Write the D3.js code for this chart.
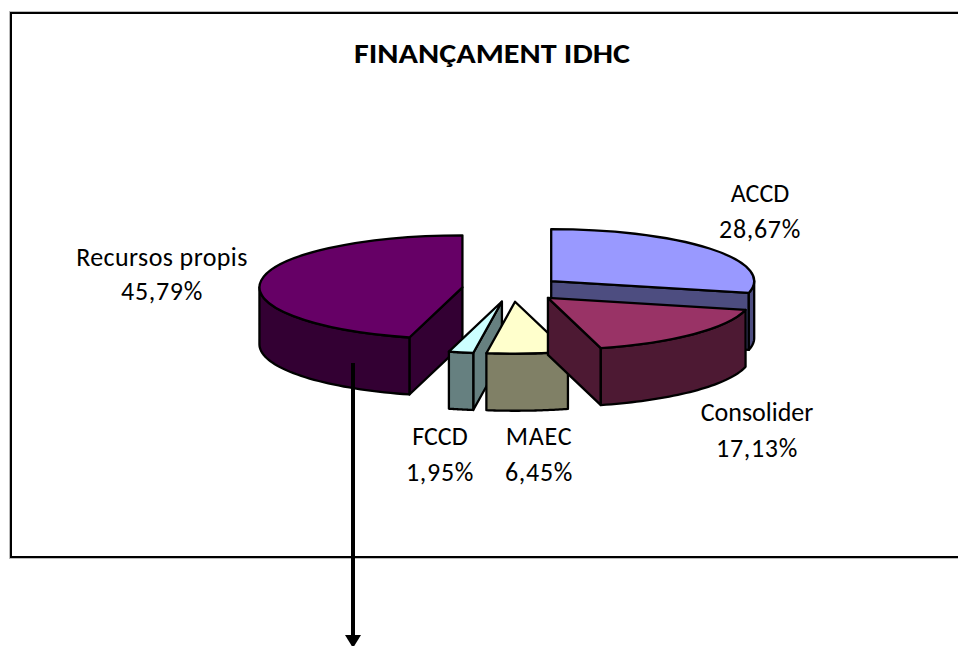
<!DOCTYPE html>
<html>
<head>
<meta charset="utf-8">
<script src="https://cdn.jsdelivr.net/npm/d3@7"></script>
<style>
  html, body { margin: 0; padding: 0; background: #fff; overflow: hidden; }
  svg { display: block; }
  text { font-family: Carlito, Lato, "Open Sans", sans-serif; fill: #000; }
</style>
</head>
<body>
<div id="chart"></div>
<script>
const categories = ["ACCD", "Consolider", "MAEC", "FCCD", "Recursos propis"];
const shares = [28.67, 17.13, 6.45, 1.95, 45.79];
const topColors = ["#9999ff", "#993366", "#ffffcc", "#ccffff", "#660066"];
const sideColors = ["#4d4d80", "#4d1933", "#808066", "#668080", "#330033"];
const chartTitle = "FINANÇAMENT IDHC";

const width = 958, height = 646;
const cx = 512, cy = 289;        // centre of the pie before exploding
const radius = 203;
const tilt = 0.256;              // y squash of the pie
const depth = 57;
const explode = 50;
const edge = 2.3;

const svg = d3.select("#chart").append("svg")
    .attr("width", width)
    .attr("height", height);

// chart frame, runs off the right side of the page
svg.append("rect")
    .attr("x", 10).attr("y", 12)
    .attr("width", 980).attr("height", 546)
    .attr("fill", "#fff")
    .attr("stroke", "#bbb")
    .attr("stroke-width", 2);
svg.append("rect")
    .attr("x", 11).attr("y", 13)
    .attr("width", 980).attr("height", 544)
    .attr("fill", "#fff")
    .attr("stroke", "#000")
    .attr("stroke-width", 2);

svg.append("text")
    .attr("x", 492).attr("y", 63)
    .attr("text-anchor", "middle")
    .attr("font-size", 28)
    .attr("font-weight", "bold")
    .attr("textLength", 276)
    .attr("lengthAdjust", "spacingAndGlyphs")
    .text(chartTitle);

const slices = d3.pie().sort(null)(shares);
const arc = d3.arc().innerRadius(0).outerRadius(radius);

const drawOrder = [0, 4, 3, 2, 1];
const halfPi = Math.PI / 2;

drawOrder.forEach(i => {
    const s = slices[i];
    const mid = (s.startAngle + s.endAngle) / 2;
    const ox = cx + explode * Math.sin(mid);
    const oy = cy - explode * tilt * Math.cos(mid);
    const pt = a => [ox + radius * Math.sin(a), oy - radius * tilt * Math.cos(a)];
    const g = svg.append("g").attr("class", "slice");

    const wall = pts => g.append("path")
        .attr("d", d3.line()(pts.concat(pts.slice().reverse().map(p => [p[0], p[1] + depth]))) + "Z")
        .attr("fill", sideColors[i])
        .attr("stroke", "#000")
        .attr("stroke-width", edge)
        .attr("stroke-linejoin", "round");

    // cut faces that point at the viewer
    if (s.startAngle > Math.PI) wall([[ox, oy], pt(s.startAngle)]);
    if (s.endAngle < Math.PI) wall([[ox, oy], pt(s.endAngle)]);

    // rim, only the front half of the circle shows
    const a0 = Math.max(s.startAngle, halfPi);
    const a1 = Math.min(s.endAngle, 3 * halfPi);
    if (a1 > a0) wall(d3.range(0, 41).map(k => pt(a0 + (a1 - a0) * k / 40)));

    // top face
    g.append("path")
        .attr("d", arc(s))
        .attr("transform", `translate(${ox},${oy}) scale(1,${tilt})`)
        .attr("fill", topColors[i])
        .attr("stroke", "#000")
        .attr("stroke-width", edge)
        .attr("vector-effect", "non-scaling-stroke")
        .attr("stroke-linejoin", "round");
});

// data labels
const labelX = [760, 757, 539, 440, 162];
const labelY = [202, 421, 445, 445, 266];
const lineGap = [36, 36, 36, 36, 34];
const nameSpacing = [0, 0, 0.8, 0, 0.4];
const fmt = v => v.toFixed(2).replace(".", ",") + "%";
categories.forEach((name, i) => {
    const t = svg.append("text")
        .attr("text-anchor", "middle")
        .attr("font-size", 26);
    t.append("tspan")
        .attr("x", labelX[i]).attr("y", labelY[i])
        .attr("letter-spacing", nameSpacing[i])
        .text(name);
    t.append("tspan")
        .attr("x", labelX[i]).attr("y", labelY[i] + lineGap[i])
        .attr("letter-spacing", 0.7)
        .text(fmt(shares[i]));
});

// arrow going out of the frame
svg.append("line")
    .attr("x1", 353).attr("y1", 363)
    .attr("x2", 353).attr("y2", 636)
    .attr("stroke", "#000")
    .attr("stroke-width", 4);
svg.append("path")
    .attr("d", d3.line()([[345, 635], [361, 635], [353, 648]]) + "Z")
    .attr("fill", "#000");
</script>
</body>
</html>
